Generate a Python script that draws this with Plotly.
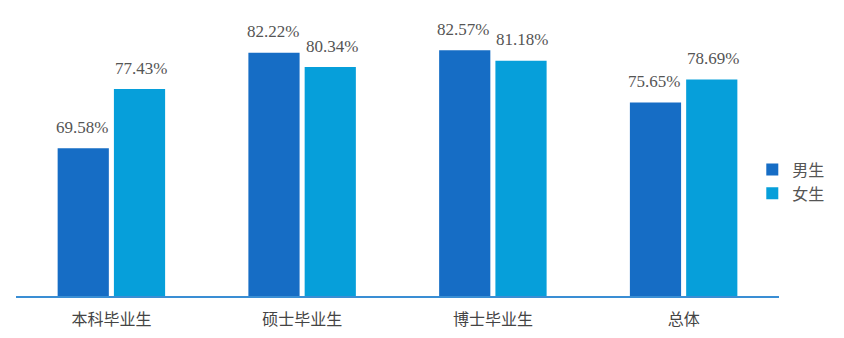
import plotly.graph_objects as go

categories = ["本科毕业生", "硕士毕业生", "博士毕业生", "总体"]
male = [69.58, 82.22, 82.57, 75.65]
female = [77.43, 80.34, 81.18, 78.69]
series_names = ["男生", "女生"]
colors = ["#166DC5", "#069FDA"]

fig = go.Figure()
for name, vals, col in zip(series_names, [male, female], colors):
    fig.add_trace(go.Bar(x=categories, y=vals, name=name, marker_color=col,
                         marker_line_width=0))

annotations = []
for vals, shift in [(male, -29.5), (female, 29.5)]:
    for c, v in zip(categories, vals):
        annotations.append(dict(x=c, y=v, text=f"{v:.2f}%", showarrow=False,
                                xshift=shift, yshift=21, yanchor="middle",
                                font=dict(family="'Liberation Serif', 'Times New Roman', Times, serif",
                                          size=17, color="#555555")))

fig.update_layout(
    width=844, height=338,
    margin=dict(l=16, r=65, t=10, b=42, autoexpand=False),
    plot_bgcolor="white", paper_bgcolor="white",
    barmode="group", bargap=0.41, bargroupgap=0.09,
    annotations=annotations,
    showlegend=True,
    legend=dict(x=0.965, y=0.40, xanchor="left", yanchor="middle",
                font=dict(family="Noto Sans CJK SC", size=16, color="#555555"),
                itemwidth=30, tracegroupgap=8),
    xaxis=dict(showline=True, linecolor="#3A8ED4", linewidth=2, ticks="",
               tickfont=dict(family="Noto Sans CJK SC", size=16, color="#444444"),
               ticklabelstandoff=8),
    yaxis=dict(range=[50, 87.9], visible=False, showgrid=False),
)
fig.write_html("out.html")
